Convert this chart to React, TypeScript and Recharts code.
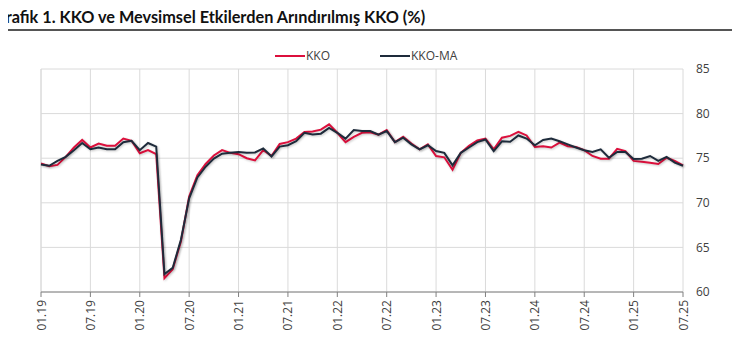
import React from 'react';
import { LineChart, Line, XAxis, YAxis, CartesianGrid } from 'recharts';

const months = [
  '01.19', '02.19', '03.19', '04.19', '05.19', '06.19', '07.19', '08.19', '09.19', '10.19', '11.19', '12.19',
  '01.20', '02.20', '03.20', '04.20', '05.20', '06.20', '07.20', '08.20', '09.20', '10.20', '11.20', '12.20',
  '01.21', '02.21', '03.21', '04.21', '05.21', '06.21', '07.21', '08.21', '09.21', '10.21', '11.21', '12.21',
  '01.22', '02.22', '03.22', '04.22', '05.22', '06.22', '07.22', '08.22', '09.22', '10.22', '11.22', '12.22',
  '01.23', '02.23', '03.23', '04.23', '05.23', '06.23', '07.23', '08.23', '09.23', '10.23', '11.23', '12.23',
  '01.24', '02.24', '03.24', '04.24', '05.24', '06.24', '07.24', '08.24', '09.24', '10.24', '11.24', '12.24',
  '01.25', '02.25', '03.25', '04.25', '05.25', '06.25', '07.25',
];

const kko = [
  74.4, 74.1, 74.25, 75.15, 76.2, 77.05, 76.2, 76.65, 76.4, 76.4, 77.2, 76.95,
  75.55, 75.9, 75.45, 61.55, 62.55, 65.65, 70.7, 73.1, 74.35, 75.3, 75.9, 75.6,
  75.45, 75.0, 74.75, 75.9, 75.25, 76.6, 76.8, 77.2, 77.95, 78.0, 78.2, 78.8,
  77.85, 76.8, 77.4, 77.85, 77.9, 77.65, 78.15, 76.8, 77.4, 76.65, 76.0, 76.55,
  75.25, 75.1, 73.7, 75.6, 76.4, 77.0, 77.2, 76.0, 77.3, 77.5, 77.95, 77.55,
  76.25, 76.35, 76.2, 76.75, 76.35, 76.25, 75.9, 75.25, 74.95, 74.95, 76.05, 75.8,
  74.7, 74.6, 74.5, 74.35, 75.05, 74.7, 74.2,
];

const kkoMA = [
  74.3, 74.15, 74.7, 75.15, 75.9, 76.7, 76.0, 76.2, 76.0, 76.0, 76.8, 76.95,
  75.9, 76.7, 76.3, 62.0, 62.7, 65.85, 70.5, 72.85, 74.05, 74.95, 75.5, 75.6,
  75.7, 75.6, 75.65, 76.1, 75.2, 76.3, 76.45, 76.9, 77.85, 77.65, 77.75, 78.4,
  77.85, 77.2, 78.15, 78.05, 78.05, 77.65, 78.05, 76.8, 77.3, 76.55, 76.0, 76.45,
  75.8, 75.6, 74.2, 75.6, 76.2, 76.8, 77.1, 75.8, 76.9, 76.85, 77.55, 77.2,
  76.45, 77.05, 77.2, 76.9, 76.55, 76.2, 75.9, 75.7, 76.0, 75.05, 75.7, 75.7,
  74.9, 74.95, 75.25, 74.7, 75.15, 74.5, 74.15,
];

const xTicks = ['01.19', '07.19', '01.20', '07.20', '01.21', '07.21', '01.22', '07.22', '01.23', '07.23', '01.24', '07.24', '01.25', '07.25'];
const yTicks = [60, 65, 70, 75, 80, 85];

const RED = '#DC0F3C';
const NAVY = '#1E2B3B';
const FONT = '"Open Sans", "DejaVu Sans", sans-serif';

const data = months.map((m, i) => ({ month: m, kko: kko[i], kkoMA: kkoMA[i] }));

const RotatedTick = (props: any) => {
  const { x, y, payload } = props;
  return (
    <text
      x={x}
      y={y}
      transform={`rotate(-90, ${x}, ${y})`}
      textAnchor="end"
      dominantBaseline="central"
      fontSize={12}
      fontFamily={FONT}
      fill="#404040"
    >
      {payload.value}
    </text>
  );
};

export default function App() {
  return (
    <div style={{ position: 'relative', width: 740, height: 354, margin: -8, overflow: 'hidden', background: '#fff' }}>
      <style>{`.recharts-line-curve { filter: drop-shadow(1px 1.5px 1px rgba(0,0,0,0.22)); }`}</style>
      {/* title is clipped at the left edge in the source image */}
      <div
        style={{
          position: 'absolute',
          left: -6,
          top: 7,
          fontFamily: 'Lato, "Open Sans", sans-serif',
          fontWeight: 700,
          fontSize: 16.3,
          color: '#111',
          whiteSpace: 'nowrap',
        }}
      >
        Grafik 1. KKO ve Mevsimsel Etkilerden Arındırılmış KKO (%)
      </div>
      <div style={{ position: 'absolute', left: 0, top: 29, width: 740, height: 1.5, background: '#555' }} />

      {/* legend */}
      <div style={{ position: 'absolute', left: 0, top: 46, width: 740, height: 20, fontFamily: FONT, fontSize: 12, color: '#404040' }}>
        <div style={{ position: 'absolute', left: 275, top: 9, width: 30, height: 2, background: RED }} />
        <span style={{ position: 'absolute', left: 306, top: 1 }}>KKO</span>
        <div style={{ position: 'absolute', left: 380, top: 9, width: 30, height: 2, background: NAVY }} />
        <span style={{ position: 'absolute', left: 411, top: 1 }}>KKO-MA</span>
      </div>

      <div style={{ position: 'absolute', left: 0, top: 0 }}>
        <LineChart width={740} height={354} data={data} margin={{ top: 69, right: 17, bottom: 22, left: 41 }}>
          <CartesianGrid stroke="#DADADA" strokeWidth={1} vertical={true} horizontal={true} />
          <XAxis
            dataKey="month"
            ticks={xTicks}
            interval={0}
            height={40}
            stroke="#808080"
            tickSize={5}
            tickMargin={3}
            tick={<RotatedTick />}
          />
          <YAxis
            orientation="right"
            domain={[60, 85]}
            ticks={yTicks}
            width={40}
            axisLine={false}
            tickLine={false}
            tickSize={6}
            tickMargin={7}
            tick={{ fontSize: 12, fontFamily: FONT, fill: '#404040', textAnchor: 'start' }}
          />
          <Line dataKey="kko" name="KKO" stroke={RED} strokeWidth={2} dot={false} isAnimationActive={false} />
          <Line dataKey="kkoMA" name="KKO-MA" stroke={NAVY} strokeWidth={2} dot={false} isAnimationActive={false} />
        </LineChart>
      </div>
    </div>
  );
}
